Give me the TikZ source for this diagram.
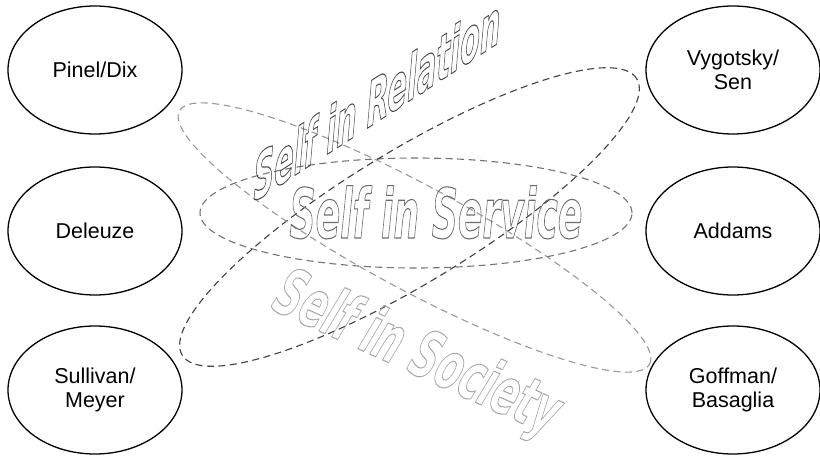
\documentclass[tikz,border=0pt]{standalone}
\usepackage{fontspec}
\setmainfont{Liberation Sans}
\newfontfamily\wafont{DejaVu Sans}
\usetikzlibrary{shapes.geometric}
\definecolor{relcol}{gray}{0.28}
\definecolor{servcol}{gray}{0.42}
\definecolor{soccol}{gray}{0.66}
\definecolor{relring}{gray}{0.25}
\definecolor{servring}{gray}{0.45}
\definecolor{socring}{gray}{0.6}
\newcommand{\hollow}[1]{\special{pdf:literal 1 Tr 1 j 1.1 w}#1\special{pdf:literal 0 Tr}}
\tikzset{
  person/.style={ellipse, draw=black, line width=1.3pt, inner sep=0pt,
    minimum width=174pt, minimum height=128pt, align=center,
    font=\fontsize{21.5}{24}\selectfont},
  ring/.style={ellipse, dash pattern=on 7pt off 4.5pt, line width=1.1pt, inner sep=0pt},
  wordart/.style={anchor=base, inner sep=0pt, transform shape,
    font=\wafont\bfseries\itshape}
}
\begin{document}
\begin{tikzpicture}[x=1pt,y=1pt]
\useasboundingbox (0,0) rectangle (820,456);
% dashed rings
\node[ring, draw=servring, minimum width=432pt, minimum height=110pt] (servicering) at (416,243) {};
\node[ring, draw=relring, rotate=31.3, minimum width=532pt, minimum height=132pt] (relationring) at (409.5,239) {};
\node[ring, draw=socring, rotate=-28.3, minimum width=534pt, minimum height=104pt] (societyring) at (414.5,218.5) {};
% people
\node[person] (pinel) at (95,386) {Pinel/Dix};
\node[person] (deleuze) at (95,225) {Deleuze};
\node[person] (sullivan) at (95,66) {Sullivan/\\Meyer};
\node[person] (vygotsky) at (733,386) {Vygotsky/\\Sen};
\node[person] (addams) at (733,225) {Addams};
\node[person] (goffman) at (733,66) {Goffman/\\Basaglia};
% word art
\begin{scope}[shift={(436,218)}]
\node[wordart, text=servcol, xscale=0.525] (service) at (0,0) {\fontsize{69}{69}\selectfont\hollow{Self in Service}};
\end{scope}
\begin{scope}[shift={(377,334)}]
\node[wordart, text=relcol, yslant=0.65, xscale=0.465] (relation) at (0,0) {\fontsize{62}{62}\selectfont\hollow{Self in Relation}};
\end{scope}
\begin{scope}[shift={(409,84)}]
\node[wordart, text=soccol, rotate=-24.5, xscale=0.575] (society) at (0,0) {\fontsize{66}{66}\selectfont\hollow{Self in Society}};
\end{scope}
\end{tikzpicture}
\end{document}
